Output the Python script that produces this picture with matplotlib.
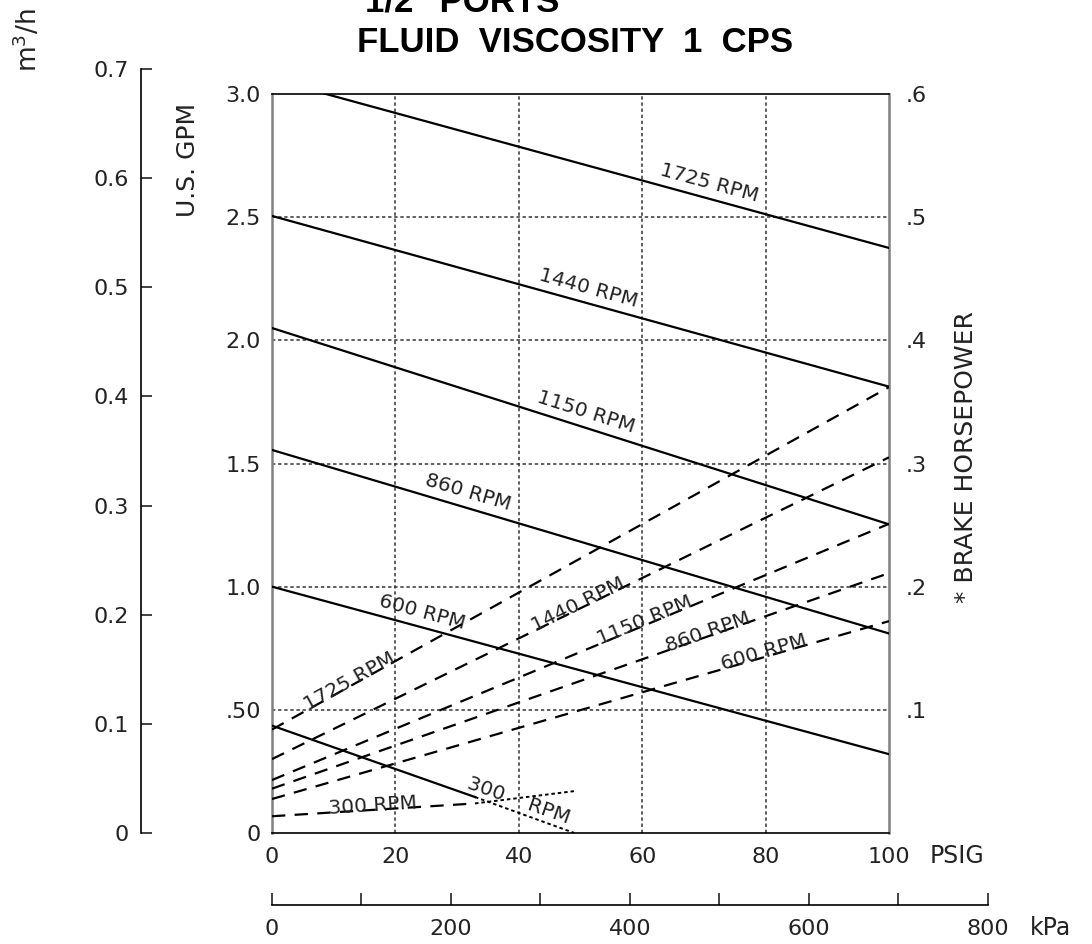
import numpy as np
import matplotlib
matplotlib.use('Agg')
import matplotlib.pyplot as plt

# ---- data ----
psi_ends = [0, 100]
rpm_labels = ['1725 RPM', '1440 RPM', '1150 RPM', '860 RPM', '600 RPM']

# capacity (US GPM) at 0 and 100 PSIG
gpm_1725 = [3.06, 2.375]
gpm_1440 = [2.505, 1.812]
gpm_1150 = [2.05, 1.253]
gpm_860 = [1.555, 0.81]
gpm_600 = [1.0, 0.32]
gpm_lines = [gpm_1725, gpm_1440, gpm_1150, gpm_860, gpm_600]

# 300 rpm capacity: solid part then dotted part
psi_300 = [0, 32.9]
gpm_300 = [0.436, 0.146]
psi_300_dot = [32.9, 49.0]
gpm_300_dot = [0.146, 0.0]

# brake horsepower at 0 and 100 PSIG
bhp_1725 = [0.084, 0.362]
bhp_1440 = [0.060, 0.305]
bhp_1150 = [0.043, 0.251]
bhp_860 = [0.036, 0.211]
bhp_600 = [0.0276, 0.172]
bhp_lines = [bhp_1725, bhp_1440, bhp_1150, bhp_860, bhp_600]

bhp_300 = [0.0136, 0.024]
bhp_300_dot = [0.024, 0.034]

# where the labels sit along each line (PSIG)
gpm_label_at = [70.5, 50.8, 50.4, 31.3, 24.0]
bhp_label_at = [13.0, 50.0, 60.8, 71.0, 80.0]

gpm_ticks = [0, 0.5, 1.0, 1.5, 2.0, 2.5, 3.0]
gpm_ticklabels = ['0', '.50', '1.0', '1.5', '2.0', '2.5', '3.0']
bhp_ticks = [0.1, 0.2, 0.3, 0.4, 0.5, 0.6]
bhp_ticklabels = ['.1', '.2', '.3', '.4', '.5', '.6']
psi_ticks = [0, 20, 40, 60, 80, 100]
m3h_ticks = [0, 0.1, 0.2, 0.3, 0.4, 0.5, 0.6, 0.7]
m3h_ticklabels = ['0', '0.1', '0.2', '0.3', '0.4', '0.5', '0.6', '0.7']
kpa_ticks = [0, 100, 200, 300, 400, 500, 600, 700, 800]
kpa_ticklabels = ['0', '', '200', '', '400', '', '600', '', '800']

PSI_TO_KPA = 6.894757

plt.rcParams['font.family'] = ['DejaVu Sans']
W, H = 1092, 944
fig = plt.figure(figsize=(W / 100, H / 100), dpi=100)

def px(x0, y0, w, h):
    return [x0 / W, 1 - (y0 + h) / H, w / W, h / H]

x0, y_top, y_bot, x1 = 272, 94, 833, 889
tick_fs = 16
lab_fs = 14.5
ink = '#222222'

ax = fig.add_axes(px(x0, y_top, x1 - x0, y_bot - y_top))
ax.set_xticks(psi_ticks, labels=[str(v) for v in psi_ticks])
ax.set_yticks(gpm_ticks, labels=gpm_ticklabels)
ax.set_xlim(0, 100)
ax.set_ylim(0, 3.0)
for s in ['left', 'right']:
    ax.spines[s].set_color('#808080')
    ax.spines[s].set_linewidth(1.8)
for s in ['top', 'bottom']:
    ax.spines[s].set_linewidth(1.2)
ax.tick_params(length=0, labelsize=tick_fs, pad=8, colors=ink)
ax.tick_params(axis='x', pad=10)

dotted = (0, (2.2, 1.8))
for v in psi_ticks[1:-1]:
    ax.axvline(v, color='#333333', lw=1.1, ls=dotted, zorder=1)
for v in gpm_ticks[1:-1]:
    ax.axhline(v, color='#333333', lw=1.1, ls=dotted, zorder=1)

ax2 = ax.twinx()
ax2.set_yticks(bhp_ticks, labels=bhp_ticklabels)
ax2.set_ylim(0, 0.6)
ax2.tick_params(length=0, labelsize=tick_fs, pad=12, colors=ink)
for s in ax2.spines.values():
    s.set_visible(False)

def angle(a, x, y, dx):
    p = a.transData.transform([(x, y[0] + (y[1] - y[0]) * x / 100),
                               (x + dx, y[0] + (y[1] - y[0]) * (x + dx) / 100)])
    return np.degrees(np.arctan2(p[1, 1] - p[0, 1], p[1, 0] - p[0, 0]))

def at(y, x):
    return y[0] + (y[1] - y[0]) * x / 100

for g, lab, xl in zip(gpm_lines, rpm_labels, gpm_label_at):
    ax.plot(psi_ends, g, color='black', lw=1.6, zorder=3)
    ax.annotate(lab, xy=(xl, at(g, xl)), xytext=(0, 4), textcoords='offset points',
                rotation=angle(ax, xl, g, 10), rotation_mode='anchor',
                ha='center', va='bottom', fontsize=lab_fs, color=ink)

dots = (0, (1.8, 1.5))
ax.plot(psi_300, gpm_300, color='black', lw=1.6, zorder=3)
ax.plot(psi_300_dot, gpm_300_dot, color='black', lw=1.4, ls=dots, zorder=3)
g300 = [gpm_300[0], gpm_300[0] + (gpm_300[1] - gpm_300[0]) / psi_300[1] * 100]
ax.annotate('300    RPM', xy=(39.5, at(g300, 39.5)), xytext=(0, 1), textcoords='offset points',
            rotation=angle(ax, 39.5, g300, 5), rotation_mode='anchor',
            ha='center', va='bottom', fontsize=lab_fs, color=ink)

dash = (0, (6, 4.2))
for b, lab, xl in zip(bhp_lines, rpm_labels, bhp_label_at):
    ax2.plot(psi_ends, b, color='black', lw=1.6, ls=dash, zorder=3)
    ax2.annotate(lab, xy=(xl, at(b, xl)), xytext=(0, -1), textcoords='offset points',
                 rotation=angle(ax2, xl, b, 10), rotation_mode='anchor',
                 ha='center', va='baseline', fontsize=lab_fs, color=ink)

ax2.plot(psi_300, bhp_300, color='black', lw=1.6, ls=dash, zorder=3)
ax2.plot(psi_300_dot, bhp_300_dot, color='black', lw=1.4, ls=dots, zorder=3)
b300 = [bhp_300[0], bhp_300[0] + (bhp_300[1] - bhp_300[0]) / psi_300[1] * 100]
ax2.annotate('300 RPM', xy=(16.4, at(b300, 16.4)), xytext=(0, -1), textcoords='offset points',
             rotation=angle(ax2, 16.4, b300, 5), rotation_mode='anchor',
             ha='center', va='baseline', fontsize=lab_fs, color=ink)

# m3/h scale on the far left, 0 to 0.7 drawn from y=833 up to y=69
axm = fig.add_axes(px(141, 69, 1, y_bot - 69))
axm.set_yticks(m3h_ticks, labels=m3h_ticklabels)
axm.set_ylim(0, 0.7)
for s in ['top', 'right', 'bottom']:
    axm.spines[s].set_visible(False)
axm.spines['left'].set_linewidth(1.2)
axm.set_xticks([])
axm.tick_params(axis='y', direction='in', length=8, width=1.2, pad=9,
                labelsize=tick_fs, colors=ink)
axm.patch.set_visible(False)

# kPa scale at the bottom
axk = fig.add_axes(px(x0, 904, (x1 - x0) * 800 / (100 * PSI_TO_KPA), 1))
axk.set_xticks(kpa_ticks, labels=kpa_ticklabels)
axk.set_xlim(0, 800)
for s in ['top', 'right', 'left']:
    axk.spines[s].set_visible(False)
axk.spines['bottom'].set_linewidth(1.2)
axk.set_yticks([])
axk.tick_params(axis='x', direction='in', length=9, width=1.2, pad=10,
                labelsize=tick_fs, colors=ink)
axk.patch.set_visible(False)

# axis titles and headings
fig.text(930 / W, 1 - 856 / H, 'PSIG', ha='left', va='center', fontsize=17, color=ink)
fig.text(1030 / W, 1 - 928 / H, 'kPa', ha='left', va='center', fontsize=17, color=ink)
fig.text(28 / W, 1 - 40 / H, 'm$^3$/h', rotation=90, ha='center', va='center',
         fontsize=19, color=ink)
fig.text(188 / W, 1 - 160 / H, 'U.S. GPM', rotation=90, ha='center', va='center',
         fontsize=18, color=ink)
fig.text(966 / W, 1 - 457 / H, '* BRAKE HORSEPOWER', rotation=90, ha='center', va='center',
         fontsize=18, color=ink)

title_font = ['Liberation Sans', 'DejaVu Sans']
fig.text(365 / W, 1 - 12 / H, '1/2" PORTS', ha='left', va='baseline',
         fontsize=25, fontweight='bold', family=title_font)
fig.text(575 / W, 1 - 52 / H, 'FLUID  VISCOSITY  1  CPS', ha='center', va='baseline',
         fontsize=25, fontweight='bold', family=title_font)

fig.savefig('out.png', dpi=100)
